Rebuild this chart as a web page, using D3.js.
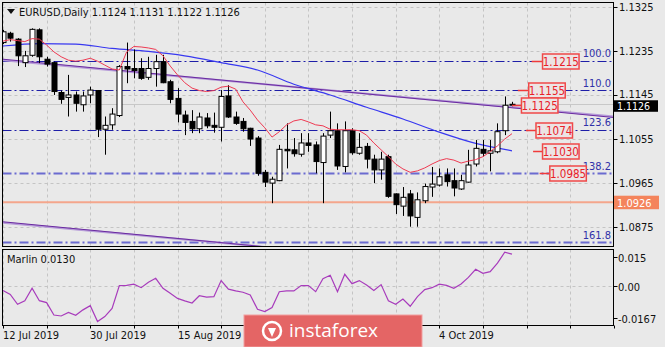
<!DOCTYPE html>
<html><head><meta charset="utf-8">
<script src="https://cdn.jsdelivr.net/npm/d3@7/dist/d3.min.js"></script>
<style>
body{margin:0;background:#e9e9e9;}
svg{display:block;}
text{font-family:"DejaVu Sans Condensed","DejaVu Sans",sans-serif;}
</style>
</head><body><svg id="c" width="665" height="347"></svg>
<script>
// ---------------- DATA ----------------
const symbol = "EURUSD,Daily";
const lastOHLC = ["1.1124","1.1131","1.1122","1.1126"];
const open  = [1.1252,1.1271,1.1259,1.1211,1.1226,1.1278,1.1218,1.1211,1.1150,1.1140,
               1.1145,1.1125,1.1145,1.1154,1.1075,1.1084,1.1103,1.1203,1.1199,1.1199,
               1.1181,1.1199,1.1213,1.1172,1.1138,1.1104,1.1091,1.1076,1.1098,1.1083,
               1.1079,1.1143,1.1100,1.1091,1.1077,1.1057,1.0987,1.0965,1.0970,1.1034,
               1.1033,1.1024,1.1047,1.1043,1.1007,1.1063,1.1072,1.0999,1.1072,1.1026,
               1.1040,1.1014,1.0992,1.1019,1.0943,1.0918,1.0943,1.0895,1.0929,1.0957,
               1.0961,1.0982,1.0970,1.0953,1.0967,1.1004,1.1034,1.1026,1.1029,1.1072,1.1124];
const high  = [1.1278,1.1274,1.1261,1.1235,1.1281,1.1281,1.1223,1.1213,1.1154,1.1186,
               1.1152,1.1152,1.1162,1.1155,1.1101,1.1118,1.1206,1.1252,1.1238,1.1220,
               1.1223,1.1227,1.1227,1.1176,1.1159,1.1113,1.1114,1.1109,1.1108,1.1109,
               1.1155,1.1165,1.1111,1.1098,1.1078,1.1061,1.0992,1.0978,1.1043,1.1087,
               1.1057,1.1067,1.1067,1.1050,1.1067,1.1111,1.1087,1.1091,1.1077,1.1067,
               1.1047,1.1023,1.1029,1.1023,1.0944,1.0957,1.0951,1.0946,1.0964,1.0998,
               1.0995,1.0995,1.0995,1.0982,1.1033,1.1053,1.1053,1.1053,1.1087,1.1142,1.1131];
const low   = [1.1249,1.1254,1.1204,1.1202,1.1223,1.1210,1.1203,1.1145,1.1127,1.1101,
               1.1111,1.1111,1.1128,1.1059,1.1023,1.1074,1.1100,1.1169,1.1179,1.1176,
               1.1176,1.1162,1.1169,1.1128,1.1089,1.1063,1.1067,1.1067,1.1077,1.1068,
               1.1050,1.1098,1.1084,1.1070,1.1041,1.0980,1.0957,1.0924,1.0969,1.0995,
               1.1019,1.1019,1.1029,1.0985,1.0924,1.1057,1.0992,1.0987,1.1023,1.1023,
               1.0995,1.0965,1.0972,1.0935,1.0902,1.0898,1.0876,1.0876,1.0924,1.0937,
               1.0958,1.0958,1.0938,1.0951,1.0966,1.0999,1.1019,1.0989,1.1026,1.1063,1.1122];
const close = [1.1274,1.1261,1.1225,1.1225,1.1279,1.1223,1.1208,1.1152,1.1136,1.1145,
               1.1128,1.1143,1.1155,1.1075,1.1083,1.1106,1.1203,1.1198,1.1195,1.1179,
               1.1199,1.1213,1.1170,1.1136,1.1106,1.1089,1.1076,1.1100,1.1082,1.1079,
               1.1142,1.1100,1.1087,1.1076,1.1055,1.0985,1.0967,1.0973,1.1034,1.1031,
               1.1025,1.1047,1.1042,1.1009,1.1061,1.1072,1.1000,1.1072,1.1027,1.1038,
               1.1014,1.0992,1.1014,1.0938,1.0921,1.0936,1.0898,1.0931,1.0958,1.0963,
               1.0978,1.0968,1.0955,1.0970,1.1002,1.1036,1.1026,1.1031,1.1070,1.1124,1.1126];
const redMA = [1.1255,1.1258,1.1256,1.1254,1.1260,1.1259,1.1247,1.1233,1.1223,1.1216,
               1.1214,1.1216,1.1220,1.1214,1.1206,1.1198,1.1196,1.1233,1.1244,1.1243,
               1.1241,1.1238,1.1225,1.1204,1.1186,1.1170,1.1159,1.1154,1.1152,1.1154,
               1.1161,1.1163,1.1157,1.1131,1.1114,1.1094,1.1078,1.1059,1.1070,1.1084,
               1.1092,1.1095,1.1090,1.1084,1.1082,1.1075,1.1074,1.1074,1.1074,1.1072,
               1.1063,1.1047,1.1033,1.1019,1.1004,1.0994,1.0987,1.0990,1.0996,1.1004,
               1.1011,1.1015,1.1012,1.1006,1.1010,1.1013,1.1019,1.1029,1.1041,1.1055,1.1066];
const blueIdx = [0,5,10,15,20,25,30,35,40,45,50,55,60,65,70];
const blueMA  = [1.1245,1.1250,1.1249,1.1240,1.1234,1.1225,1.1211,1.1196,1.1167,1.1145,1.1120,1.1096,1.1069,1.1046,1.1031];
const channelIdx    = [0,84];
const channelTop    = [1.1216,1.1101];
const channelBottom = [1.0884,1.0769];
const fibLevels = [1.1215,1.1155,1.1074,1.0985,1.0844];
const fibLabels = ["100.0","110.0","123.6","138.2","161.8"];
const markLevels = [1.1215,1.1155,1.1125,1.1074,1.1030,1.0985];
const markLabels = ["1.1215","1.1155","1.1125","1.1074","1.1030","1.0985"];
const priceTicks = [1.1325,1.1235,1.1145,1.1055,1.0965,1.0875];
const priceTickLabels = ["1.1325","1.1235","1.1145","1.1055","1.0965","1.0875"];
const supportLevel = 1.0926, supportLabel = "1.0926";
const bidPrice = 1.1126, bidLabel = "1.1126";
const marlin = [-0.0024,-0.0044,-0.0096,-0.0078,-0.0012,-0.0077,-0.0087,-0.0152,-0.0157,-0.0138,
                -0.0153,-0.0125,-0.0103,-0.0186,-0.0160,-0.0117,0.0002,0.0003,0.0009,-0.0009,
                0.0019,0.0040,-0.0012,-0.0038,-0.0065,-0.0078,-0.0089,-0.0051,-0.0058,-0.0056,
                0.0028,-0.0017,-0.0026,-0.0033,-0.0047,-0.0122,-0.0134,-0.0113,-0.0030,-0.0026,
                -0.0026,0.0002,0.0002,-0.0030,0.0038,0.0056,-0.0030,0.0061,0.0012,0.0028,
                0.0005,-0.0024,0.0007,-0.0077,-0.0096,-0.0068,-0.0106,-0.0056,-0.0019,-0.0009,
                0.0009,0.0003,-0.0012,0.0010,0.0045,0.0087,0.0066,0.0075,0.0119,0.0176,0.0166];
const marlinTitle = "Marlin 0.0130";
const marlinTicks = [0.015,0,-0.0167];
const marlinTickLabels = ["0.015","0.00","-0.0167"];
const dateLabels = ["12 Jul 2019","30 Jul 2019","15 Aug 2019","4 Oct 2019"];
const dateIdx = [0,12,24,60];
const watermark = "instaforex";

// ---------------- LAYOUT ----------------
const W = 665, H = 347;
const plotL = 2.5, plotR = 613.5, mainT = 2.5, mainB = 246.5, subT = 249.5, subB = 325.5;
const markBoxStart = [74.2,72.3,71.3,73.3,74.2,75.2];
const markLineStart = [72.7,70.8,70.0,71.9,72.9,73.8];

const svg = d3.select("#c");
const x = d3.scaleLinear().domain([0,70]).range([3,512]);
const y = d3.scaleLinear().domain([1.0837,1.1333]).range([245.8,2.9]);
const ys = d3.scaleLinear().domain([-0.0204,0.0193]).range([325,249]);

svg.append("rect").attr("width",W).attr("height",H).attr("fill","#e9e9e9");

const defs = svg.append("defs");
defs.append("clipPath").attr("id","mclip").append("rect")
  .attr("x",plotL).attr("y",mainT).attr("width",plotR-plotL).attr("height",mainB-mainT);
defs.append("clipPath").attr("id","sclip").append("rect")
  .attr("x",plotL).attr("y",subT).attr("width",plotR-plotL).attr("height",subB-subT);

const gridCol = "#c4c4c4";
const gridIdx = d3.range(0,85,6);

const mg = svg.append("g").attr("clip-path","url(#mclip)");
mg.selectAll(".vg").data(gridIdx).join("line")
  .attr("x1",d=>Math.round(x(d))+0.5).attr("x2",d=>Math.round(x(d))+0.5)
  .attr("y1",mainT).attr("y2",mainB).attr("stroke",gridCol).attr("stroke-dasharray","3,3");
mg.selectAll(".hg").data(priceTicks).join("line")
  .attr("x1",plotL).attr("x2",plotR)
  .attr("y1",d=>Math.round(y(d))+0.5).attr("y2",d=>Math.round(y(d))+0.5)
  .attr("stroke",gridCol).attr("stroke-dasharray","3,3");

mg.append("line").attr("x1",plotL).attr("x2",plotR)
  .attr("y1",Math.round(y(bidPrice))+0.5).attr("y2",Math.round(y(bidPrice))+0.5)
  .attr("stroke","#c8c8c8");
mg.append("line").attr("x1",plotL).attr("x2",plotR)
  .attr("y1",y(supportLevel)).attr("y2",y(supportLevel))
  .attr("stroke","#f4a68c").attr("stroke-width",2);

fibLevels.forEach((lv,k)=>{
  const light = k>=3;
  mg.append("line").attr("x1",plotL).attr("x2",plotR)
    .attr("y1",Math.round(y(lv))+0.5).attr("y2",Math.round(y(lv))+0.5)
    .attr("stroke",light?"#6b6bd0":"#1e1ea8").attr("stroke-width",light?2:1)
    .attr("stroke-dasharray","9,3,2,3");
});

const chLine = d3.line().x(d=>x(d[0])).y(d=>y(d[1]));
[channelTop,channelBottom].forEach(arr=>{
  const pts = channelIdx.map((c,k)=>[c,arr[k]]);
  mg.append("path").attr("d",chLine(pts)).attr("fill","none").attr("stroke","#b69bd8").attr("stroke-width",2);
  mg.append("path").attr("d",chLine(pts.map((p,k)=>[p[0],p[1]+(k?-0.0002:0.0002)]))).attr("fill","none").attr("stroke","#6a2aa0").attr("stroke-width",1);
});

mg.append("path").attr("d",d3.line().x((d,k)=>x(blueIdx[k])).y(d=>y(d)).curve(d3.curveMonotoneX)(blueMA))
  .attr("fill","none").attr("stroke","#3838f0").attr("stroke-width",1.2);

const idx = d3.range(open.length);
const cg = mg.append("g");
idx.forEach(i=>{
  const cx = Math.round(x(i))+0.5;
  cg.append("line").attr("x1",cx).attr("x2",cx).attr("y1",y(high[i])).attr("y2",y(low[i])).attr("stroke","#000");
  const top = y(Math.max(open[i],close[i])), bot = y(Math.min(open[i],close[i]));
  const bull = close[i] >= open[i];
  cg.append("rect").attr("x",cx-2.5).attr("y",top).attr("width",5).attr("height",Math.max(1,bot-top))
    .attr("fill",bull?"#fff":"#000").attr("stroke","#000").attr("stroke-width",1);
});

mg.append("path").attr("d",d3.line().x((d,i)=>x(i)).y(d=>y(d))(redMA))
  .attr("fill","none").attr("stroke","#ee3a52").attr("stroke-width",1);

fibLevels.forEach((lv,k)=>{
  svg.append("text").attr("x",611).attr("y",y(lv)-3.5).attr("text-anchor","end")
    .attr("font-size",11).attr("fill","#3030a8").text(fibLabels[k]);
});

markLevels.forEach((lv,k)=>{
  const yy = Math.round(y(lv))+0.5;
  const bx = x(markBoxStart[k]);
  svg.append("line").attr("x1",x(markLineStart[k])).attr("x2",bx).attr("y1",yy).attr("y2",yy)
    .attr("stroke","#f03a3a").attr("stroke-width",1.5);
  svg.append("rect").attr("x",bx).attr("y",yy-7.5).attr("width",36.5).attr("height",15)
    .attr("fill","#ece4e4").attr("stroke","#f04848").attr("stroke-width",1.5);
  svg.append("text").attr("x",bx+18.25).attr("y",yy+4.5).attr("text-anchor","middle")
    .attr("font-size",11.5).attr("fill","#e82028").text(markLabels[k]);
});

svg.append("rect").attr("x",plotL).attr("y",mainT).attr("width",plotR-plotL).attr("height",mainB-mainT)
  .attr("fill","none").attr("stroke","#000");

priceTicks.forEach((p,k)=>{
  const yy = Math.round(y(p))+0.5;
  svg.append("line").attr("x1",plotR).attr("x2",plotR+4).attr("y1",yy).attr("y2",yy).attr("stroke","#000");
  svg.append("text").attr("x",619).attr("y",yy+(p===1.1145?2:3)).attr("font-size",11).attr("fill","#111").text(priceTickLabels[k]);
});
svg.append("rect").attr("x",614).attr("y",y(bidPrice)-4).attr("width",44).attr("height",11.5).attr("fill","#000");
svg.append("text").attr("x",617).attr("y",y(bidPrice)+5.5).attr("font-size",10.5).attr("fill","#fff").text(bidLabel);
svg.append("rect").attr("x",614).attr("y",y(supportLevel)-6.5).attr("width",45).attr("height",13.5).attr("fill","#f4845c");
svg.append("text").attr("x",617).attr("y",y(supportLevel)+4.5).attr("font-size",11).attr("fill","#fff").text(supportLabel);

svg.append("path").attr("d","M7,9 L15,9 L11,14 Z").attr("fill","#111");
svg.append("text").attr("x",19).attr("y",16).attr("font-size",11).attr("fill","#111")
  .text(symbol + "  " + lastOHLC.join(" "));

const sg = svg.append("g").attr("clip-path","url(#sclip)");
sg.selectAll(".svg").data(gridIdx).join("line")
  .attr("x1",d=>Math.round(x(d))+0.5).attr("x2",d=>Math.round(x(d))+0.5)
  .attr("y1",subT).attr("y2",subB).attr("stroke",gridCol).attr("stroke-dasharray","3,3");
sg.append("line").attr("x1",plotL).attr("x2",plotR)
  .attr("y1",Math.round(ys(0))+0.5).attr("y2",Math.round(ys(0))+0.5)
  .attr("stroke",gridCol).attr("stroke-dasharray","3,3");
sg.append("path").attr("d",d3.line().x((d,i)=>x(i)).y(d=>ys(d))(marlin))
  .attr("fill","none").attr("stroke","#a83cbc").attr("stroke-width",1.2);
svg.append("rect").attr("x",plotL).attr("y",subT).attr("width",plotR-plotL).attr("height",subB-subT)
  .attr("fill","none").attr("stroke","#000");
svg.append("text").attr("x",7).attr("y",263).attr("font-size",11).attr("fill","#111").text(marlinTitle);
marlinTicks.forEach((v,k)=>{
  const yy = Math.round(ys(v))+0.5;
  svg.append("line").attr("x1",plotR).attr("x2",plotR+4).attr("y1",yy).attr("y2",yy).attr("stroke","#000");
  svg.append("text").attr("x",618).attr("y",yy+4).attr("font-size",11).attr("fill","#111").text(marlinTickLabels[k]);
});

gridIdx.forEach(d=>{
  const xx = Math.round(x(d))+0.5;
  svg.append("line").attr("x1",xx).attr("x2",xx).attr("y1",subB).attr("y2",subB+3).attr("stroke","#000");
});
dateLabels.forEach((t,k)=>{
  svg.append("text").attr("x",Math.round(x(dateIdx[k]))).attr("y",339).attr("font-size",11).attr("fill","#111").text(t);
});

svg.append("rect").attr("x",244).attr("y",315).attr("width",178).attr("height",32).attr("fill","#e46565");
svg.append("rect").attr("x",244).attr("y",315).attr("width",178).attr("height",32).attr("fill","none").attr("stroke","#f2a0a0").attr("stroke-width",1);
const lg = svg.append("g").attr("transform","translate(272,331)");
lg.append("circle").attr("r",9).attr("fill","none").attr("stroke","#fff").attr("stroke-width",2.5);
lg.append("path").attr("d","M-4,-3 L4,-3 L0,6 Z").attr("fill","#fff");
svg.append("text").attr("x",289).attr("y",337).attr("font-size",19)
  .style("font-family","'Open Sans',sans-serif").attr("fill","#fff").text(watermark);
</script>
</body></html>
